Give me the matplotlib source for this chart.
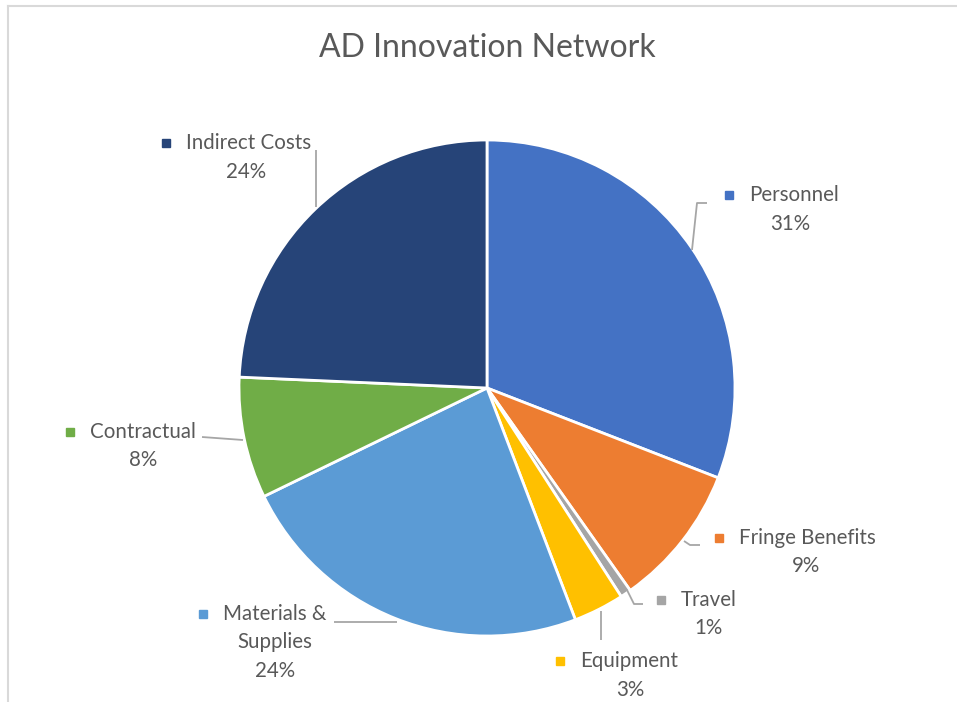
import matplotlib.pyplot as plt
from matplotlib.lines import Line2D

W, H = 957, 702

categories = ['Personnel', 'Fringe Benefits', 'Travel', 'Equipment',
              'Materials &\nSupplies', 'Contractual', 'Indirect Costs']
shares = [30.9, 9.3, 0.7, 3.3, 23.6, 7.9, 24.3]
colors = ['#4472C4', '#ED7D31', '#A5A5A5', '#FFC000',
          '#5B9BD5', '#70AD47', '#264478']
title = 'AD Innovation Network'

# label layout in pixel coords (marker x, first line y, block center x)
label_pos = [
    (729, 195, 790),
    (719, 538, 806),
    (661, 600, 709),
    (560, 661, 630),
    (203, 614, 275),
    (70, 432, 143),
    (166, 143, 246),
]
# leader lines, pixel coords
leaders = [
    [(707, 203), (697, 203), (692, 250)],
    [(684, 541), (690, 545), (700, 545)],
    [(627, 590), (634, 604), (643, 604)],
    [(601, 611), (601, 640)],
    [(334, 622), (397, 622)],
    [(202, 437), (243, 440)],
    [(316, 150), (316, 207)],
]

TXT = '#595959'
LINE_GREY = '#A6A6A6'
FONT = ['Lato', 'DejaVu Sans']


def py(y):
    return H - y


fig = plt.figure(figsize=(W / 100, H / 100), dpi=100)
ax = fig.add_axes([0, 0, 1, 1])

ax.pie(shares, colors=colors, startangle=90, counterclock=False,
       center=(487, py(388)), radius=248,
       wedgeprops=dict(edgecolor='white', linewidth=2))
ax.set_xlim(0, W)
ax.set_ylim(0, H)
ax.axis('off')

# chart border (only top / left visible in the crop)
ax.add_line(Line2D([8, 8], [py(6), py(H)], color='#D9D9D9', lw=1.5))
ax.add_line(Line2D([8, W], [py(6), py(6)], color='#D9D9D9', lw=1.5))

ax.text(487, py(48), title, ha='center', va='center', fontsize=23,
        color=TXT, family=FONT)

total = sum(shares)
for cat, v, col, (mx, ly, cx), pts in zip(categories, shares, colors,
                                          label_pos, leaders):
    xs = [p[0] for p in pts]
    ys = [py(p[1]) for p in pts]
    ax.plot(xs, ys, color=LINE_GREY, lw=1.3, solid_capstyle='butt')
    ax.plot(mx, py(ly), marker='s', ms=6, color=col, mec=col)
    lines = cat.split('\n') + ['{:.0f}%'.format(round(v / total * 100))]
    ax.text(mx + 20, py(ly), lines[0], ha='left', va='center',
            fontsize=14.8, color=TXT, family=FONT)
    for i, s in enumerate(lines[1:]):
        ax.text(cx, py(ly + 28.5 * (i + 1)), s, ha='center', va='center',
                fontsize=14.8, color=TXT, family=FONT)

fig.savefig('out.png', dpi=100, facecolor='white')
